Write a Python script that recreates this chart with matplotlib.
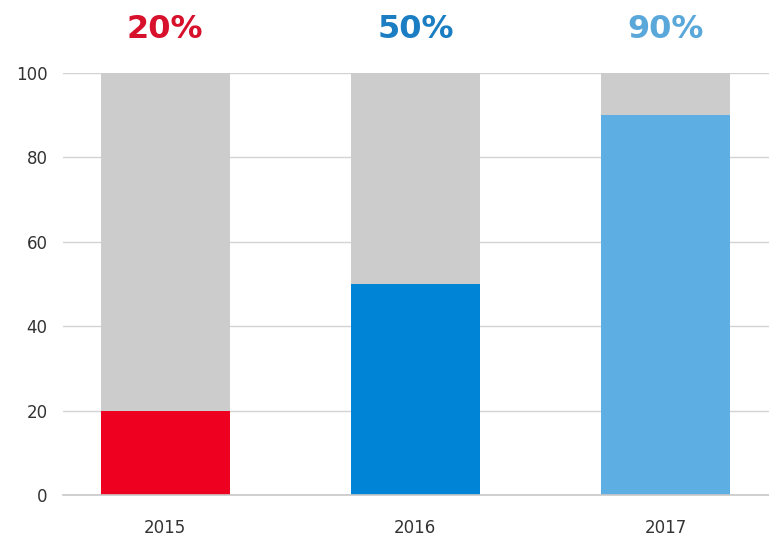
import matplotlib.pyplot as plt

# data
years = ['2015', '2016', '2017']
values = [20, 50, 90]
total = [100, 100, 100]
labels = ['20%', '50%', '90%']
bar_colors = ['#EE0020', '#0085D6', '#5DAEE3']
text_colors = ['#D7102C', '#1B7EC3', '#5AA8DA']

fig = plt.figure(figsize=(7.69, 5.41), dpi=100)
ax = fig.add_axes([63 / 769, 46 / 541, 1 - 63 / 769, 422 / 541])

x = range(len(years))
ax.bar(x, total, width=0.516, color='#CCCCCC', zorder=2)
ax.bar(x, values, width=0.516, color=bar_colors, zorder=3)

for i, lab in enumerate(labels):
    ax.text(i, 110.3, lab, ha='center', va='center', fontsize=23,
            fontweight='bold', family='DejaVu Sans', color=text_colors[i], clip_on=False)

ax.set_xlim(-0.408, 2.413)
ax.set_ylim(0, 100)
ax.set_yticks([0, 20, 40, 60, 80, 100])
ax.set_xticks(list(x))
ax.set_xticklabels(years)
ax.grid(axis='y', color='#D3D3D3', linewidth=1, zorder=1)
ax.set_axisbelow(True)
ax.axhline(0, color='#C8C8C8', linewidth=1.2, zorder=4, clip_on=False)
for s in ax.spines.values():
    s.set_visible(False)
ax.tick_params(axis='y', length=0, pad=11, labelsize=12, labelcolor='#333333')
ax.tick_params(axis='x', length=0, pad=17, labelsize=12, labelcolor='#333333')

fig.savefig('out.png', dpi=100)
